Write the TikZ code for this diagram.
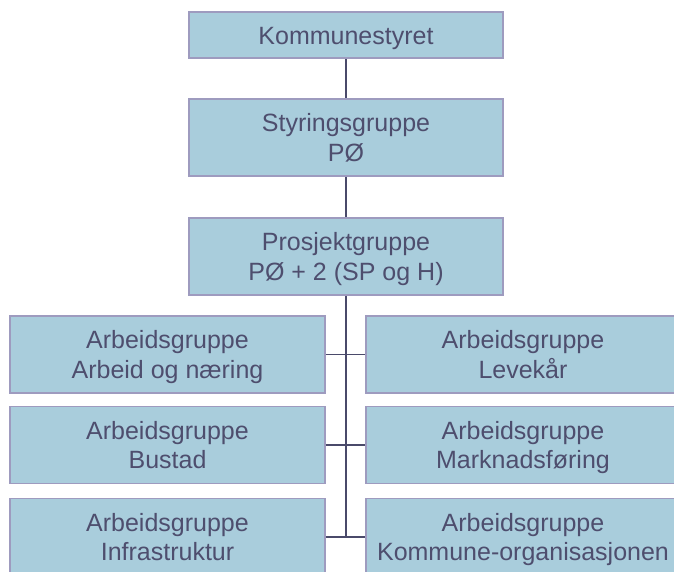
\documentclass[tikz,border=0pt]{standalone}
\usepackage{fontspec}
\setmainfont{Liberation Sans}
\usepackage{tikz}
\usetikzlibrary{positioning}
\definecolor{box-fill}{HTML}{A9CDDC}
\definecolor{box-edge}{HTML}{9E9BBF}
\definecolor{box-text}{HTML}{4E4E6E}
\definecolor{link-line}{HTML}{4A4A6A}

\begin{document}
\begin{tikzpicture}[x=1pt, y=-1pt,
    groupbox/.style={draw=box-edge, fill=box-fill, line width=1.6pt, text=box-text,
        inner sep=0pt, minimum width=314pt, minimum height=77pt, align=center,
        text height=47.5pt, text depth=0pt,
        font=\fontsize{25}{29.5}\selectfont},
    link/.style={draw=link-line, line width=1.8pt}]

    % frame
    \useasboundingbox (0,0) rectangle (674,571);
    \clip (0,0) rectangle (674,571);

    % top of the hierarchy
    \node[groupbox, minimum height=46pt, text height=18pt] (kommune) at (346,35) {Kommunestyret};
    \node[groupbox] (styring) at (346,137.5) {Styringsgruppe\\PØ};
    \node[groupbox] (prosjekt) at (346,256.5) {Prosjektgruppe\\PØ + 2 (SP og H)};

    % working groups, left column
    \node[groupbox, minimum width=315pt] (arbeid) at (167.5,354.5) {Arbeidsgruppe\\Arbeid og næring};
    \node[groupbox, minimum width=315pt] (bustad) at (167.5,445) {Arbeidsgruppe\\Bustad};
    \node[groupbox, minimum width=315pt] (infra) at (167.5,537) {Arbeidsgruppe\\Infrastruktur};

    % working groups, right column
    \node[groupbox] (levekar) at (523,354.5) {Arbeidsgruppe\\Levekår};
    \node[groupbox] (marknad) at (523,445) {Arbeidsgruppe\\Marknadsføring};
    \node[groupbox] (organisasjon) at (523,537) {Arbeidsgruppe\\Kommune-organisasjonen};

    % connectors
    \coordinate (spine-end) at (346,537);
    \draw[link] (kommune.south) -- (styring.north);
    \draw[link] (styring.south) -- (prosjekt.north);
    \draw[link] (prosjekt.south) -- (spine-end);
    \draw[link] (arbeid.east) -- (levekar.west);
    \draw[link] (bustad.east) -- (marknad.west);
    \draw[link] (infra.east) -- (organisasjon.west);

\end{tikzpicture}
\end{document}
